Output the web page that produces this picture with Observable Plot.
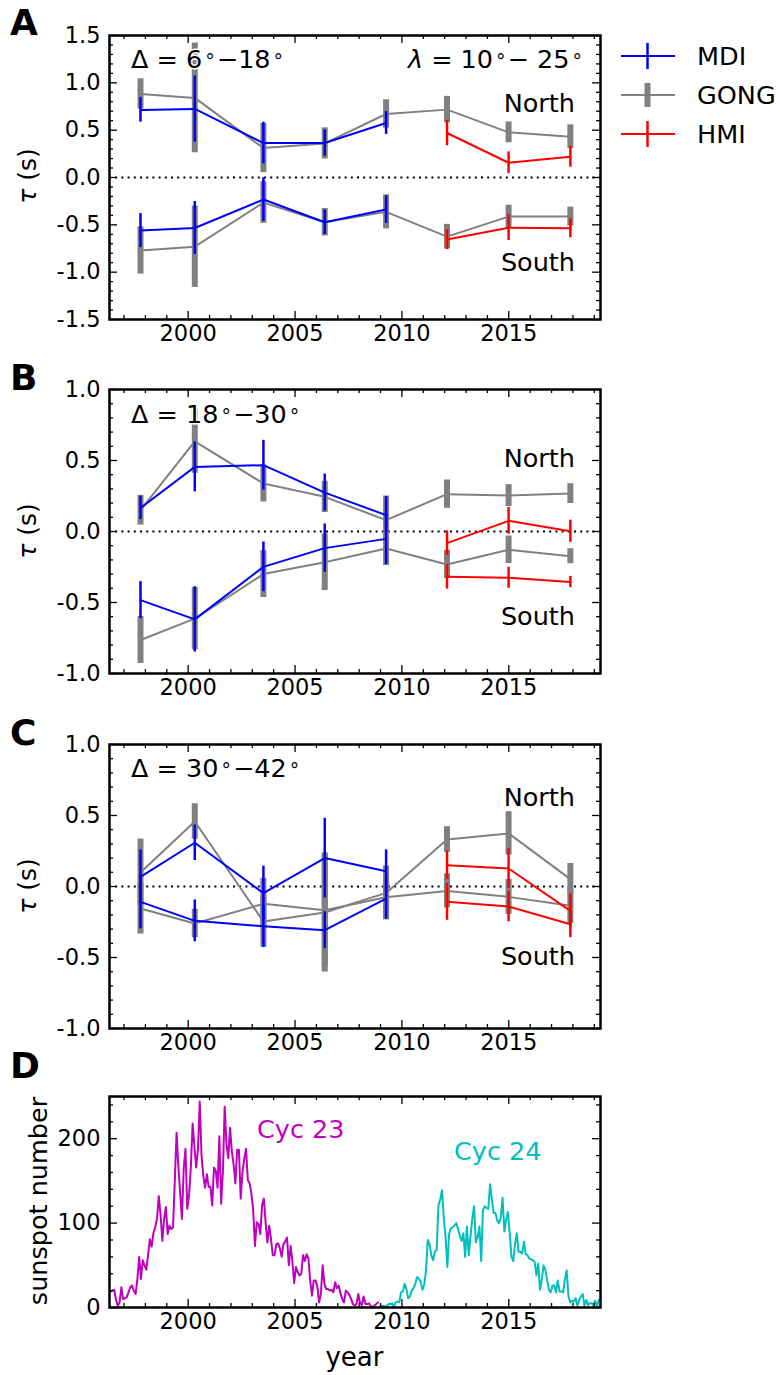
<!DOCTYPE html>
<html><head><meta charset="utf-8">
<script src="https://cdn.jsdelivr.net/npm/d3@7"></script>
<script src="https://cdn.jsdelivr.net/npm/@observablehq/plot@0.6"></script>
<style>
body{margin:0;background:#fff;}
#wrap{position:relative;width:780px;height:1375px;font-family:"DejaVu Sans",sans-serif;}
#wrap svg{position:absolute;left:0;overflow:visible;}
</style></head><body><div id="wrap"></div>
<script>
// ---------- data ----------
const epochs = [1997.77, 2000.31, 2003.52, 2006.39, 2009.26, 2012.11, 2014.99, 2017.88];
const mdiEpochs = epochs.slice(0, 5);
const hmiEpochs = epochs.slice(5);
const xTicks = [2000, 2005, 2010, 2015];

// Panel A  (Delta = 6-18 deg)
const A_mdiN = [0.714, 0.724, 0.364, 0.364, 0.576], A_mdiN_err = [0.13, 0.35, 0.22, 0.14, 0.12];
const A_mdiS = [-0.561, -0.533, -0.233, -0.473, -0.339], A_mdiS_err = [0.18, 0.28, 0.23, 0.13, 0.145];
const A_gongN = [0.883, 0.841, 0.311, 0.36, 0.671, 0.717, 0.477, 0.431], A_gongN_err = [0.16, 0.58, 0.26, 0.165, 0.15, 0.14, 0.11, 0.125];
const A_gongS = [-0.77, -0.731, -0.265, -0.473, -0.363, -0.625, -0.413, -0.413], A_gongS_err = [0.25, 0.43, 0.22, 0.145, 0.18, 0.13, 0.12, 0.1];
const A_hmiN = [0.47, 0.156, 0.219], A_hmiN_err = [0.135, 0.115, 0.11];
const A_hmiS = [-0.656, -0.53, -0.536], A_hmiS_err = [0.105, 0.135, 0.1];

// Panel B  (Delta = 18-30 deg)
const B_mdiN = [0.166, 0.455, 0.467, 0.274, 0.115], B_mdiN_err = [0.083, 0.176, 0.175, 0.13, 0.13];
const B_mdiS = [-0.483, -0.619, -0.249, -0.117, -0.052], B_mdiS_err = [0.13, 0.23, 0.175, 0.17, 0.18];
const B_gongN = [0.15, 0.635, 0.338, 0.244, 0.08, 0.263, 0.253, 0.267], B_gongN_err = [0.105, 0.225, 0.13, 0.11, 0.17, 0.1, 0.077, 0.07];
const B_gongS = [-0.764, -0.614, -0.3, -0.216, -0.12, -0.232, -0.129, -0.174], B_gongS_err = [0.165, 0.22, 0.165, 0.2, 0.12, 0.1, 0.097, 0.053];
const B_hmiN = [-0.082, 0.075, 0.002], B_hmiN_err = [0.087, 0.094, 0.078];
const B_hmiS = [-0.319, -0.326, -0.356], B_hmiS_err = [0.087, 0.074, 0.04];

// Panel C  (Delta = 30-42 deg)
const C_mdiN = [0.068, 0.308, -0.047, 0.2, 0.108], C_mdiN_err = [0.19, 0.125, 0.19, 0.28, 0.15];
const C_mdiS = [-0.108, -0.242, -0.28, -0.308, -0.085], C_mdiS_err = [0.19, 0.147, 0.15, 0.13, 0.145];
const C_gongN = [0.099, 0.458, -0.247, -0.183, -0.045, 0.331, 0.374, 0.052], C_gongN_err = [0.235, 0.125, 0.18, 0.42, 0.19, 0.09, 0.153, 0.11];
const C_gongS = [-0.155, -0.261, -0.122, -0.167, -0.075, -0.031, -0.073, -0.136], C_gongS_err = [0.18, 0.1, 0.18, 0.4, 0.15, 0.12, 0.123, 0.125];
const C_hmiN = [0.15, 0.127, -0.172], C_hmiN_err = [0.1, 0.14, 0.12];
const C_hmiS = [-0.108, -0.141, -0.266], C_hmiS_err = [0.13, 0.108, 0.095];

// Panel D: monthly sunspot number
const ssn23Start = [1996, 4];   // April 1996 .. Nov 2008
const ssn23 = [
  17, 19, 20, 21, 9, 2, 6, 24, 10,
  11, 12, 18, 24, 26, 20, 16, 34, 60, 34, 56, 50,
  45, 62, 81, 72, 88, 95, 105, 132, 110, 79, 105, 119,
  87, 97, 93, 95, 150, 207, 167, 136, 105, 165, 188, 117,
  133, 166, 218, 191, 166, 188, 244, 180, 156, 142, 158, 143,
  143, 121, 166, 162, 142, 203, 123, 161, 238, 194, 177, 213,
  185, 170, 147, 187, 187, 129, 161, 176, 188, 151, 147, 135,
  115, 73, 101, 99, 87, 121, 129, 100, 77, 97, 81, 62,
  62, 75, 76, 70, 60, 75, 78, 83, 50, 73, 55, 29,
  48, 42, 38, 40, 62, 55, 63, 58, 32, 14, 32, 32,
  25, 6, 16, 50, 28, 22, 22, 20, 21, 18, 30, 23,
  26, 17, 10, 6, 20, 18, 15, 10, 4, 2, 4, 16,
  5, 3, 13, 4, 4, 5, 1, 1, 2, 4, 6
];
const ssn24Start = [2008, 12];  // Dec 2008 .. Apr 2019
const ssn24 = [
  1.2,
  2, 2, 1, 2, 4, 4, 5, 0.5, 6, 7, 6, 18,
  19, 28, 22, 11, 13, 20, 23, 28, 36, 34, 31, 21,
  27, 43, 80, 75, 62, 56, 66, 68, 121, 128, 139, 106,
  84, 48, 87, 94, 95, 97, 100, 93, 85, 79, 88, 60,
  96, 62, 84, 105, 120, 77, 83, 96, 55, 115, 120, 118,
  117, 146, 128, 112, 112, 103, 100, 107, 130, 90, 104, 113,
  88, 60, 55, 75, 88, 66, 66, 64, 78, 63, 62, 58,
  57, 56, 54, 38, 52, 21, 32, 50, 45, 33, 21, 18,
  26, 26, 18, 32, 19, 19, 18, 33, 44, 13, 6, 8,
  7, 11, 2.5, 9, 13, 16, 1.6, 9, 3, 5, 5, 3,
  8, 1, 9, 9
];
const ssnTicks = [0, 100, 200];

// ---------- helpers ----------
const FONT = "DejaVu Sans";
const xDomain = [1996.32, 2019.29];
const FW = 491; // frame width in px
const rows = (xs, v, e) => xs.map((x, i) => ({x, y: v[i], e: e[i]}));
const monthly = (start, vals) => vals.map((v, i) => ({x: start[0] + (start[1] - 1 + i + 0.5) / 12, y: v}));
const xMinor = d3.range(1997, 2020).filter(d => d % 5 !== 0);

function tickMarks(H, yMajor, yMinor) {
  const s = {stroke: "black", strokeWidth: 1.3};
  return [
    Plot.tickX(xTicks, {x: d => d, insetTop: H - 8, ...s}),
    Plot.tickX(xTicks, {x: d => d, insetBottom: H - 8, ...s}),
    Plot.tickX(xMinor, {x: d => d, insetTop: H - 4, ...s}),
    Plot.tickX(xMinor, {x: d => d, insetBottom: H - 4, ...s}),
    Plot.tickY(yMajor, {y: d => d, insetRight: FW - 8, ...s}),
    Plot.tickY(yMajor, {y: d => d, insetLeft: FW - 8, ...s}),
    Plot.tickY(yMinor, {y: d => d, insetRight: FW - 4, ...s}),
    Plot.tickY(yMinor, {y: d => d, insetLeft: FW - 4, ...s})
  ];
}

function series(list, color, barW) {
  const marks = [];
  for (const d of list) {
    if (barW > 4) {
      marks.push(Plot.ruleX(d, {x: "x", y1: r => r.y - r.e, y2: r => r.y + r.e, stroke: color, strokeWidth: barW}));
      marks.push(Plot.line(d, {x: "x", y: "y", stroke: color, strokeWidth: 2}));
    } else {
      marks.push(Plot.line(d, {x: "x", y: "y", stroke: color, strokeWidth: 2}));
      marks.push(Plot.ruleX(d, {x: "x", y1: r => r.y - r.e, y2: r => r.y + r.e, stroke: color, strokeWidth: barW}));
    }
  }
  return marks;
}

function tauPanel(top, P, yDomain, yMajor, yMinor) {
  const mt = 34, mb = 42, H = 284;
  const svg = Plot.plot({
    width: 780, height: mt + H + mb,
    marginTop: mt, marginBottom: mb, marginLeft: 109, marginRight: 180,
    style: {fontFamily: FONT, fontSize: "22.5px", background: "transparent", overflow: "visible"},
    x: {domain: xDomain},
    y: {domain: yDomain},
    marks: [
      Plot.ruleY([0], {stroke: "black", strokeWidth: 2, strokeDasharray: "2,4.2"}),
      ...series([rows(epochs, P.gongN, P.gongN_err), rows(epochs, P.gongS, P.gongS_err)], "#808080", 6),
      ...series([rows(mdiEpochs, P.mdiN, P.mdiN_err), rows(mdiEpochs, P.mdiS, P.mdiS_err)], "#0000ff", 2.5),
      ...series([rows(hmiEpochs, P.hmiN, P.hmiN_err), rows(hmiEpochs, P.hmiS, P.hmiS_err)], "#ff0000", 2.5),
      ...tickMarks(H, yMajor, yMinor),
      Plot.axisX({ticks: xTicks, tickSize: 0, tickPadding: 6, tickFormat: d => String(d), label: null}),
      Plot.axisY({ticks: yMajor, tickSize: 0, tickPadding: 9, tickFormat: d => d.toFixed(1), label: null}),
      Plot.frame({stroke: "black", strokeWidth: 2.5})
    ]
  });
  svg.style.top = (top - mt) + "px";
  return svg;
}

const wrap = document.getElementById("wrap");
const minorTau = (lo, hi) => d3.range(Math.round(lo * 10), Math.round(hi * 10) + 1).filter(k => k % 5 !== 0).map(k => k / 10);

wrap.appendChild(tauPanel(35, {mdiN: A_mdiN, mdiN_err: A_mdiN_err, mdiS: A_mdiS, mdiS_err: A_mdiS_err,
  gongN: A_gongN, gongN_err: A_gongN_err, gongS: A_gongS, gongS_err: A_gongS_err,
  hmiN: A_hmiN, hmiN_err: A_hmiN_err, hmiS: A_hmiS, hmiS_err: A_hmiS_err},
  [-1.5, 1.5], [-1.5, -1.0, -0.5, 0, 0.5, 1.0, 1.5], minorTau(-1.5, 1.5)));
wrap.appendChild(tauPanel(389, {mdiN: B_mdiN, mdiN_err: B_mdiN_err, mdiS: B_mdiS, mdiS_err: B_mdiS_err,
  gongN: B_gongN, gongN_err: B_gongN_err, gongS: B_gongS, gongS_err: B_gongS_err,
  hmiN: B_hmiN, hmiN_err: B_hmiN_err, hmiS: B_hmiS, hmiS_err: B_hmiS_err},
  [-1, 1], [-1.0, -0.5, 0, 0.5, 1.0], minorTau(-1, 1)));
wrap.appendChild(tauPanel(744, {mdiN: C_mdiN, mdiN_err: C_mdiN_err, mdiS: C_mdiS, mdiS_err: C_mdiS_err,
  gongN: C_gongN, gongN_err: C_gongN_err, gongS: C_gongS, gongS_err: C_gongS_err,
  hmiN: C_hmiN, hmiN_err: C_hmiN_err, hmiS: C_hmiS, hmiS_err: C_hmiS_err},
  [-1, 1], [-1.0, -0.5, 0, 0.5, 1.0], minorTau(-1, 1)));

// Panel D
{
  const mt = 30, mb = 68, H = 211;
  const svg = Plot.plot({
    width: 780, height: mt + H + mb,
    marginTop: mt, marginBottom: mb, marginLeft: 109, marginRight: 180,
    style: {fontFamily: FONT, fontSize: "22.5px", background: "transparent", overflow: "visible"},
    x: {domain: xDomain},
    y: {domain: [0, 250]},
    marks: [
      Plot.line(monthly(ssn23Start, ssn23), {x: "x", y: "y", stroke: "#bf00bf", strokeWidth: 2, clip: true}),
      Plot.line(monthly(ssn24Start, ssn24), {x: "x", y: "y", stroke: "#00bfbf", strokeWidth: 2, clip: true}),
      ...tickMarks(H, ssnTicks, d3.range(20, 250, 20).filter(d => d % 100 !== 0)),
      Plot.axisX({ticks: xTicks, tickSize: 0, tickPadding: 6, tickFormat: d => String(d), label: null}),
      Plot.axisY({ticks: ssnTicks, tickSize: 0, tickPadding: 9, tickFormat: d => String(d), label: null}),
      Plot.frame({stroke: "black", strokeWidth: 2.5})
    ]
  });
  svg.style.top = (1096 - mt) + "px";
  wrap.appendChild(svg);
}

// ---------- overlay: annotations, labels, legend ----------
const ov = d3.select(wrap).append("svg")
  .attr("width", 780).attr("height", 1375)
  .style("top", "0px").style("pointer-events", "none")
  .attr("font-family", FONT);

function txt(x, y, s, opts = {}) {
  const t = ov.append("text").attr("x", x).attr("y", y)
    .attr("font-size", opts.size || 25.5)
    .attr("fill", opts.fill || "black")
    .attr("text-anchor", opts.anchor || "start");
  if (s) t.text(s);
  if (opts.weight) t.attr("font-weight", opts.weight);
  if (opts.halo) t.attr("stroke", "white").attr("stroke-width", 3).attr("paint-order", "stroke").attr("stroke-linejoin", "round");
  if (opts.rotate) t.attr("transform", `rotate(-90 ${x} ${y})`);
  return t;
}
function deltaLabel(y, a, b) {
  const t = txt(131, y, "", {halo: true});
  t.append("tspan").text(`Δ = ${a}`);
  t.append("tspan").text("°").attr("font-size", 19).attr("dx", 3);
  t.append("tspan").text("−").attr("dx", 2);
  t.append("tspan").text(b);
  t.append("tspan").text("°").attr("font-size", 19).attr("dx", 3);
}
deltaLabel(68, "6", "18");
deltaLabel(423, "18", "30");
deltaLabel(777, "30", "42");
{
  const t = txt(582, 68, "", {anchor: "end"});
  t.append("tspan").text("λ").attr("font-style", "italic");
  t.append("tspan").text(" = 10");
  t.append("tspan").text("°").attr("font-size", 19).attr("dx", 3);
  t.append("tspan").text("− 25").attr("dx", 2);
  t.append("tspan").text("°").attr("font-size", 19).attr("dx", 3);
}
[[112, 271], [467, 625], [806, 965]].forEach(([n, s]) => {
  txt(575, n, "North", {anchor: "end"});
  txt(575, s, "South", {anchor: "end"});
});
txt(257, 1138, "Cyc 23", {fill: "#bf00bf"});
txt(454, 1160, "Cyc 24", {fill: "#00bfbf"});

// panel letters
[["A", 35], ["B", 390], ["C", 745], ["D", 1078]].forEach(([l, y]) => txt(10, y, l, {size: 36, weight: "bold"}));

// y labels
[176, 531, 886].forEach(cy => {
  const t = txt(36, cy, "", {size: 25, anchor: "middle", rotate: true});
  t.append("tspan").text("τ").attr("font-style", "italic");
  t.append("tspan").text(" (s)");
});
txt(47, 1201, "sunspot number", {size: 25.5, anchor: "middle", rotate: true});
txt(354.5, 1366, "year", {size: 26, anchor: "middle"});

// legend
[["MDI", "#0000ff", 2.5, 13, 56], ["GONG", "#808080", 6, 12, 95], ["HMI", "#ff0000", 2.5, 13, 134]].forEach(([name, c, w, h, y]) => {
  ov.append("line").attr("x1", 621).attr("x2", 675).attr("y1", y).attr("y2", y).attr("stroke", c).attr("stroke-width", 2);
  ov.append("line").attr("x1", 647.5).attr("x2", 647.5).attr("y1", y - h).attr("y2", y + h).attr("stroke", c).attr("stroke-width", w);
  txt(697, y + 9, name);
});
</script></body></html>
